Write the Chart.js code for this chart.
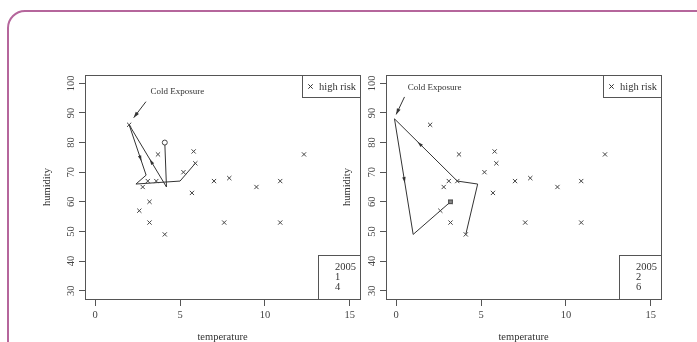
<!DOCTYPE html>
<html>
<head>
<meta charset="utf-8">
<script src="https://cdn.jsdelivr.net/npm/chart.js@4.4.1/dist/chart.umd.min.js"></script>
<style>
  html, body { margin:0; padding:0; background:#fff; }
  body { width:697px; height:342px; overflow:hidden; position:relative; }
  #frame { position:absolute; left:7px; top:10px; width:720px; height:400px; border:2px solid #b5669c; border-radius:18px; box-sizing:border-box; }
  .panel { position:absolute; top:0; height:350px; }
  #p1 { left:0; width:365px; }
  #p2 { left:300px; width:366px; }
</style>
</head>
<body>
<div id="frame"></div>
<div class="panel" id="p1"><canvas id="c1"></canvas></div>
<div class="panel" id="p2"><canvas id="c2"></canvas></div>
<script>
// ===== DATA =====
const xTicks = [0, 5, 10, 15];
const yTicks = [30, 40, 50, 60, 70, 80, 90, 100];

// high risk observations (same in both panels)
const riskX = [2.0, 3.7, 5.8, 5.9, 5.2, 3.1, 3.6, 2.8, 5.7, 7.0, 7.9, 9.5, 10.9, 12.3, 3.2, 2.6, 3.2, 7.6, 10.9, 4.1];
const riskY = [86, 76, 77, 73, 70, 67, 67, 65, 63, 67, 68, 65, 67, 76, 60, 57, 53, 53, 53, 49];

// trajectories
const path1X = [4.1, 4.2, 2.0, 3.0, 2.4, 5.0, 5.9];
const path1Y = [80, 65, 86, 69, 66, 67, 73];
const path2X = [4.1, 4.8, 3.6, -0.1, 1.0, 3.2];
const path2Y = [49, 66, 67, 88, 49, 60];

const legendLabel = "high risk";
const info1 = ["2005", "1", "4"];
const info2 = ["2005", "2", "6"];

const noteText = "Cold Exposure";
const note1Pos = [4.84, 97.1];
const note1Arrow = [2.99, 93.8, 2.27, 88.4];
const note2Pos = [2.26, 98.6];
const note2Arrow = [0.49, 95.4, 0.0, 89.5];

const FONT = "'Liberation Serif', 'DejaVu Serif', serif";
const INK = "#333";
const AXIS = "#555";

function head(ctx, x, y, ang, len, w){
  ctx.save();
  ctx.translate(x, y);
  ctx.rotate(ang);
  ctx.beginPath();
  ctx.moveTo(len/2, 0);
  ctx.lineTo(-len/2, -w);
  ctx.lineTo(-len/2, w);
  ctx.closePath();
  ctx.fill();
  ctx.restore();
}

const rPlot = {
  id: "rPlot",
  afterDatasetsDraw(chart, args, o){
    const {ctx, chartArea:a, scales:{x, y}} = chart;
    ctx.save();
    ctx.strokeStyle = AXIS;
    ctx.lineWidth = 1;
    ctx.strokeRect(Math.round(a.left)+0.5, Math.round(a.top)+0.5, Math.round(a.right-a.left), Math.round(a.bottom-a.top));

    // direction arrows on the trajectory
    ctx.fillStyle = INK;
    const pts = chart.getDatasetMeta(0).data;
    o.arrows.forEach(([i, f]) => {
      const p0 = pts[i], p1 = pts[i+1];
      const ang = Math.atan2(p1.y-p0.y, p1.x-p0.x);
      head(ctx, p0.x+(p1.x-p0.x)*f, p0.y+(p1.y-p0.y)*f, ang, 6, 1.7);
    });

    // annotation
    const [tx, ty] = o.notePos;
    const [ax0, ay0, ax1, ay1] = o.noteArrow;
    ctx.font = "9px " + FONT;
    ctx.textAlign = "center";
    ctx.textBaseline = "middle";
    ctx.fillText(noteText, x.getPixelForValue(tx), y.getPixelForValue(ty));
    const X0 = x.getPixelForValue(ax0), Y0 = y.getPixelForValue(ay0);
    const X1 = x.getPixelForValue(ax1), Y1 = y.getPixelForValue(ay1);
    ctx.strokeStyle = INK;
    ctx.beginPath(); ctx.moveTo(X0, Y0); ctx.lineTo(X1, Y1); ctx.stroke();
    const ang = Math.atan2(Y1-Y0, X1-X0);
    head(ctx, X1 - Math.cos(ang)*3, Y1 - Math.sin(ang)*3, ang, 6, 2);

    // legend top right
    ctx.strokeStyle = AXIS;
    const lw = 58, lh = 22;
    const L = Math.round(a.right - lw)+0.5, T = Math.round(a.top)+0.5;
    ctx.strokeRect(L, T, lw, lh);
    const cx = L + 8, cy = T + 11;
    ctx.strokeStyle = INK;
    ctx.beginPath();
    ctx.moveTo(cx-2.2, cy-2.2); ctx.lineTo(cx+2.2, cy+2.2);
    ctx.moveTo(cx-2.2, cy+2.2); ctx.lineTo(cx+2.2, cy-2.2);
    ctx.stroke();
    ctx.font = "10.5px " + FONT;
    ctx.textAlign = "left";
    ctx.fillText(legendLabel, L + 16.5, cy + 0.5);

    // info box bottom right
    ctx.strokeStyle = AXIS;
    const bw = 42, bh = 44;
    const BL = Math.round(a.right - bw)+0.5, BT = Math.round(a.bottom - bh)+0.5;
    ctx.strokeRect(BL, BT, bw, bh);
    o.info.forEach((t, i) => ctx.fillText(t, BL + 16.5, BT + 11.5 + i*10.3));
    ctx.restore();
  }
};

function panel(id, yw, pathX, pathY, marker, arrows, info, notePos, noteArrow){
  const path = pathX.map((v, i) => ({x:v, y:pathY[i]}));
  const risk = riskX.map((v, i) => ({x:v, y:riskY[i]}));
  const mk = marker === "circle" ? path[0] : path[path.length-1];

  return new Chart(document.getElementById(id), {
    type: "scatter",
    data: {
      datasets: [
        {
          type: "line",
          data: path,
          showLine: true,
          borderColor: INK,
          borderWidth: 1,
          pointRadius: 0,
          tension: 0,
          fill: false,
          order: 3
        },
        {
          data: risk,
          pointStyle: "crossRot",
          pointRadius: 3,
          borderColor: "#444",
          borderWidth: 1,
          order: 2
        },
        {
          data: [mk],
          pointStyle: marker === "circle" ? "circle" : "rect",
          pointRadius: marker === "circle" ? 2.5 : 2.6,
          borderColor: "#444",
          backgroundColor: marker === "circle" ? "#fff" : "#888",
          borderWidth: 1,
          order: 1
        }
      ]
    },
    options: {
      responsive: true,
      maintainAspectRatio: false,
      animation: false,
      events: [],
      layout: { padding: { left: 0, top: 75, right: 3, bottom: 0 } },
      plugins: {
        legend: { display: false },
        tooltip: { enabled: false },
        rPlot: { arrows, info, notePos, noteArrow }
      },
      scales: {
        x: {
          type: "linear",
          min: -0.6,
          max: 15.6,
          afterBuildTicks: s => { s.ticks = xTicks.map(v => ({value:v})); },
          afterFit: s => { s.height = 51; },
          border: { display: false },
          grid: { drawOnChartArea: false, drawTicks: true, tickLength: 7, color: AXIS },
          ticks: { autoSkip: false, maxRotation: 0, padding: 2.7, color: "#444", font: { family: FONT, size: 10.5 } },
          title: { display: true, text: "temperature", color: INK, font: { family: FONT, size: 10.5 }, padding: { top: 0, bottom: 6.7 } }
        },
        y: {
          type: "linear",
          min: 27.2,
          max: 102.8,
          afterBuildTicks: s => { s.ticks = yTicks.map(v => ({value:v})); },
          afterFit: s => { s.width = yw; },
          border: { display: false },
          grid: { drawOnChartArea: false, drawTicks: true, tickLength: 6, color: AXIS },
          ticks: { autoSkip: false, minRotation: 90, maxRotation: 90, crossAlign: "center", padding: 0, color: "#444", font: { family: FONT, size: 10.5 } },
          title: { display: true, text: "humidity", color: INK, font: { family: FONT, size: 10.5 }, padding: { top: 41.4, bottom: 0 } }
        }
      }
    },
    plugins: [rPlot]
  });
}

panel("c1", 85, path1X, path1Y, "circle", [[1, 0.41], [2, 0.67]], info1, note1Pos, note1Arrow);
panel("c2", 86, path2X, path2Y, "square", [[2, 0.6], [3, 0.53]], info2, note2Pos, note2Arrow);
</script>
</body>
</html>
